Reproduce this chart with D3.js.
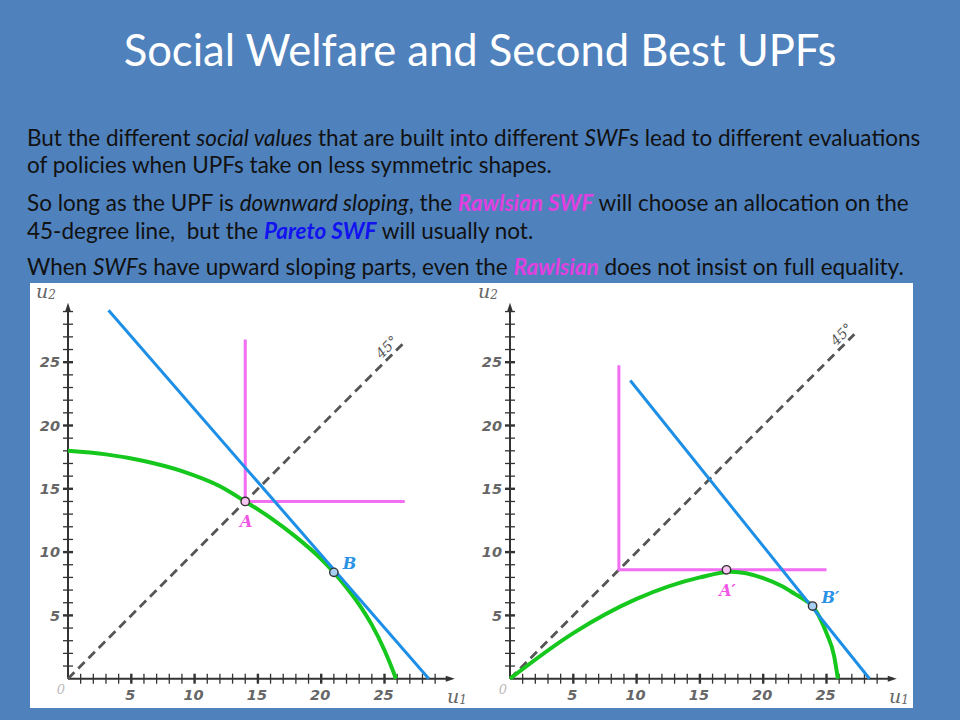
<!DOCTYPE html>
<html>
<head>
<meta charset="utf-8">
<script src="https://cdn.jsdelivr.net/npm/d3@7"></script>
<style>
  body { margin: 0; background: #4f81bd; }
  svg { display: block; }
</style>
</head>
<body>
<div id="slide"></div>
<script>
// slide size
const W = 960, H = 720;

// tick values on both axes
const minorTicks = [1,2,3,4,5,6,7,8,9,10,11,12,13,14,15,16,17,18,19,20,21,22,23,24,25,26,27,28,29];
const majorTicks = [5, 10, 15, 20, 25];

// left panel: UPF, Pareto (linear) SWF, Rawlsian L
const leftUPF = [[0,18],[3,17.72],[6,17.2],[9,16.4],[12,15.2],[14,14],[16,12.7],[18,11.2],[20,9.45],[21,8.4],[22,7.2],[23,5.85],[24,4.25],[25,2.25],[25.6,0.8],[25.9,0]];
const leftPareto = [[3.2,29.1],[28.5,0]];
const leftRawls = [[14,26.8],[14,14],[26.6,14]];
const leftDiag = [[0,0],[26.7,26.7]];
const leftPoints = [
  { name: "A", u: [14, 14], kind: "rawls" },
  { name: "B", u: [21, 8.4], kind: "pareto" }
];

// right panel: UPF with an upward sloping part
const rightUPF = [[0,0],[5,3.6],[10,6.3],[15,8.0],[17.5,8.45],[20,7.95],[21.5,7.3],[22.5,6.7],[23.3,6.2],[23.9,5.74],[24.5,4.75],[25,3.6],[25.6,1.8],[25.9,0]];
const rightPareto = [[9.5,23.55],[28.4,0]];
const rightRawls = [[8.6,24.75],[8.6,8.6],[25,8.6]];
const rightDiag = [[0,0],[27.2,27.2]];
const rightPoints = [
  { name: "A\u2032", u: [17.1, 8.6], kind: "rawls" },
  { name: "B\u2032", u: [23.9, 5.74], kind: "pareto" }
];

const col = {
  bg: "#4f81bd",
  upf: "#16c81e",
  pareto: "#1e8fe6",
  rawls: "#f26ef2",
  rawlsLbl: "#f255e6",
  paretoLbl: "#2a93e6",
  diag: "#555",
  axis: "#333",
  tick: "#666"
};

const svg = d3.select("#slide").append("svg")
  .attr("width", W).attr("height", H);

svg.append("rect").attr("width", W).attr("height", H).attr("fill", col.bg);

// set font pieces one by one
function font(sel, family, size, style, weight) {
  return sel.style("font-family", family)
    .style("font-size", size + "px")
    .style("font-style", style || "normal")
    .style("font-weight", weight || "normal");
}

// ---------- text part ----------
function fitWidth(sel, target) {
  sel.style("font-size", "20px");
  const w = sel.node().getComputedTextLength();
  const fs = 20 * target / w;
  sel.style("font-size", fs + "px");
  return fs;
}

const title = svg.append("text")
  .attr("x", W / 2).attr("y", 66)
  .attr("text-anchor", "middle")
  .attr("fill", "white")
  .style("font-family", "Lato, 'Open Sans', sans-serif")
  .text("Social Welfare and Second Best UPFs");
fitWidth(title, 713);

const bodyLines = [
  [["n","But the different "],["i","social values"],["n"," that are built into different "],["i","SWF"],["n","s lead to different evaluations"]],
  [["n","of policies when UPFs take on less symmetric shapes."]],
  [["n","So long as the UPF is "],["i","downward sloping"],["n",", the "],["r","Rawlsian SWF"],["n"," will choose an allocation on the"]],
  [["n","45-degree line,  but the "],["p","Pareto SWF"],["n"," will usually not."]],
  [["n","When "],["i","SWF"],["n","s have upward sloping parts, even the "],["r","Rawlsian"],["n"," does not insist on full equality."]]
];
const bodyBase = [146, 173, 211, 238.5, 275];

const bodyText = bodyLines.map((segs, i) => {
  const t = svg.append("text")
    .attr("x", 27).attr("y", bodyBase[i])
    .attr("fill", "#111")
    .style("white-space", "pre")
    .style("font-family", "Lato, 'Open Sans', sans-serif");
  segs.forEach(([k, s]) => {
    const ts = t.append("tspan").text(s);
    if (k !== "n") ts.style("font-style", "italic");
    if (k === "r") ts.attr("fill", "#e040e0").style("font-weight", "bold");
    if (k === "p") ts.attr("fill", "#1212f0").style("font-weight", "bold");
  });
  return t;
});
const bodySize = fitWidth(bodyText[0], 894);
bodyText.forEach(t => t.style("font-size", bodySize + "px"));

// ---------- chart part ----------
svg.append("rect")
  .attr("x", 30).attr("y", 283)
  .attr("width", 883).attr("height", 425)
  .attr("fill", "white");

const tickFont = "'DejaVu Sans', Verdana, sans-serif";
const serif = "'DejaVu Serif', serif";

function drawPanel(ox, oy, upf, pareto, rawls, diag, points, labelStart) {
  const x = d3.scaleLinear().domain([0, 30]).range([ox, ox + 30 * 12.66]);
  const y = d3.scaleLinear().domain([0, 30]).range([oy, oy - 30 * 12.66]);
  const g = svg.append("g");
  const line = d3.line().x(d => x(d[0])).y(d => y(d[1]));

  // axes
  const xEnd = x(30.55), yEnd = y(29.7);
  g.append("line").attr("x1", x(0)).attr("x2", xEnd - 4).attr("y1", oy).attr("y2", oy)
    .attr("stroke", col.axis).attr("stroke-width", 2);
  g.append("line").attr("x1", ox).attr("x2", ox).attr("y1", oy).attr("y2", yEnd + 4)
    .attr("stroke", col.axis).attr("stroke-width", 2);
  g.append("path").attr("d", `M${xEnd},${oy} L${xEnd - 9},${oy - 3} L${xEnd - 9},${oy + 3} Z`).attr("fill", col.axis);
  g.append("path").attr("d", `M${ox},${yEnd} L${ox - 3},${yEnd + 9} L${ox + 3},${yEnd + 9} Z`).attr("fill", col.axis);

  const isMajor = d => majorTicks.includes(d);
  g.selectAll(".xt").data(minorTicks).join("line")
    .attr("x1", d => x(d)).attr("x2", d => x(d))
    .attr("y1", oy - 5).attr("y2", oy + 5)
    .attr("stroke", col.axis).attr("stroke-width", d => isMajor(d) ? 2.4 : 1.3);
  g.selectAll(".yt").data(minorTicks).join("line")
    .attr("y1", d => y(d)).attr("y2", d => y(d))
    .attr("x1", ox - 5).attr("x2", ox + 5)
    .attr("stroke", col.axis).attr("stroke-width", d => isMajor(d) ? 2.4 : 1.3);

  font(g.selectAll(".xl").data(majorTicks).join("text")
    .attr("x", d => x(d) - 1).attr("y", oy + 21)
    .attr("text-anchor", "middle")
    .attr("fill", col.tick)
    .text(d => d), tickFont, 14.5, "italic", "bold");
  font(g.selectAll(".yl").data(majorTicks).join("text")
    .attr("x", ox - 8).attr("y", d => y(d)).attr("dy", "0.36em")
    .attr("text-anchor", "end")
    .attr("fill", col.tick)
    .text(d => d), tickFont, 14.5, "italic", "bold");

  font(g.append("text").attr("x", ox - 7).attr("y", oy + 15)
    .attr("text-anchor", "middle").attr("fill", "#bbb")
    .text("0"), serif, 13, "italic");

  const u2 = font(g.append("text").attr("x", ox - 32).attr("y", 298).attr("fill", "#666"), serif, 19, "italic");
  u2.append("tspan").text("u");
  u2.append("tspan").attr("dy", 1).style("font-size", "12px").text("2");
  const u1 = font(g.append("text").attr("x", ox + 379).attr("y", 703).attr("fill", "#666"), serif, 19, "italic");
  u1.append("tspan").text("u");
  u1.append("tspan").attr("dy", 1).style("font-size", "12px").text("1");

  // 45 degree line
  g.append("path").attr("d", line(diag))
    .attr("fill", "none").attr("stroke", col.diag)
    .attr("stroke-width", 2.8).attr("stroke-dasharray", "9,5.5");
  const lx = x(labelStart) - 3, ly = y(labelStart) - 3;
  font(g.append("text")
    .attr("transform", `translate(${lx},${ly}) rotate(-45)`)
    .attr("fill", col.diag)
    .text("45\u00b0"), serif, 14, "italic");

  // Rawlsian L-shaped indifference curve
  g.append("path").attr("d", line(rawls))
    .attr("fill", "none").attr("stroke", col.rawls).attr("stroke-width", 3);

  // UPF
  const curve = d3.line().x(d => x(d[0])).y(d => y(d[1])).curve(d3.curveMonotoneX);
  g.append("path").attr("d", curve(upf))
    .attr("fill", "none").attr("stroke", col.upf).attr("stroke-width", 4);

  // Pareto (linear) SWF
  g.append("path").attr("d", line(pareto))
    .attr("fill", "none").attr("stroke", col.pareto).attr("stroke-width", 3);

  // chosen points
  points.forEach(p => {
    const px = x(p.u[0]), py = y(p.u[1]);
    g.append("circle").attr("cx", px).attr("cy", py).attr("r", 4.2)
      .attr("fill", p.kind === "rawls" ? "#f8c6f2" : "#a6cff2")
      .attr("stroke", "#333").attr("stroke-width", 1.4);
    const lbl = font(g.append("text")
      .attr("fill", p.kind === "rawls" ? col.rawlsLbl : col.paretoLbl)
      .attr("text-anchor", p.kind === "rawls" ? "middle" : "start")
      .text(p.name), serif, 16, "italic", "bold");
    if (p.kind === "rawls") lbl.attr("x", px + 1).attr("y", py + 26);
    else lbl.attr("x", px + 9).attr("y", py - 3);
  });
}

drawPanel(68, 678.7, leftUPF, leftPareto, leftRawls, leftDiag, leftPoints, 25.0);
drawPanel(510, 678.7, rightUPF, rightPareto, rightRawls, rightDiag, rightPoints, 26.0);
</script>
</body>
</html>
